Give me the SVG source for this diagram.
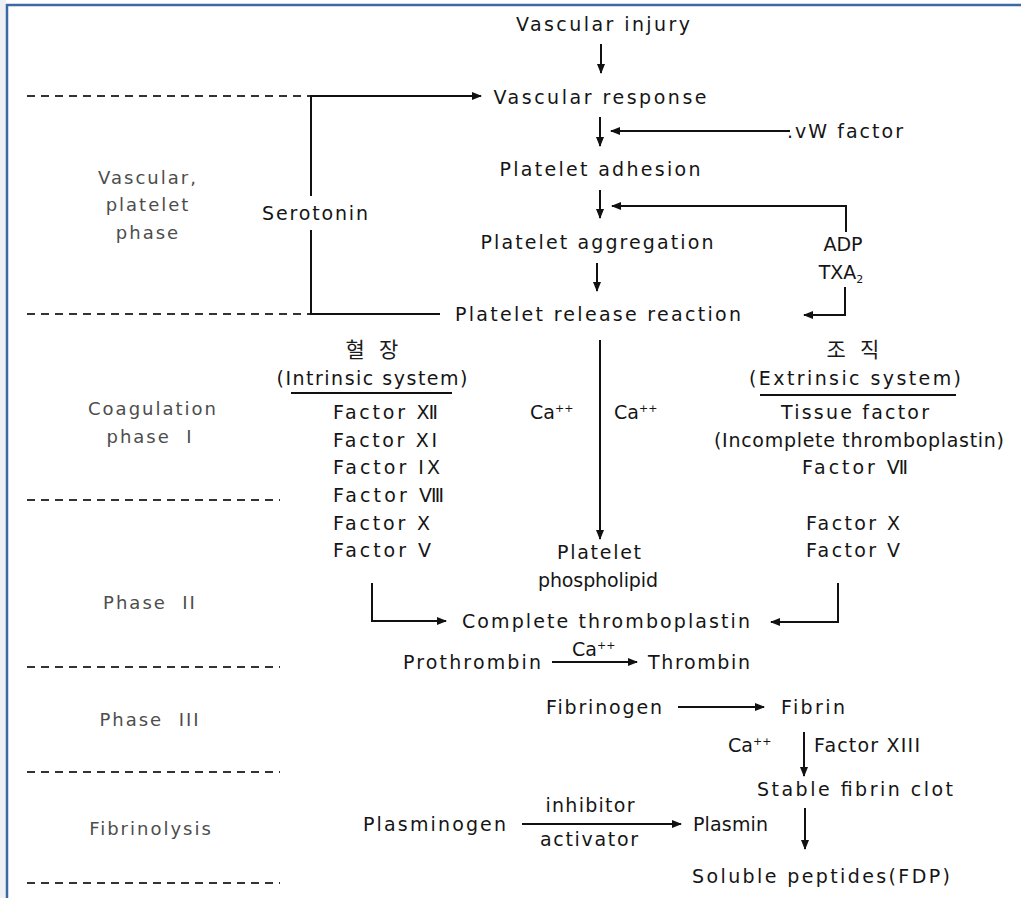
<svg xmlns="http://www.w3.org/2000/svg" width="1021" height="898" viewBox="0 0 1021 898">
<style>
.t{font-family:"DejaVu Sans","Noto Sans CJK KR",sans-serif;font-size:19px;fill:#151515;text-anchor:middle}
.s{text-anchor:start}
.k{font-family:"Noto Sans CJK KR",sans-serif;font-size:21px;fill:#1a1a1a;text-anchor:middle}
.p{font-family:"DejaVu Sans",sans-serif;font-size:18px;fill:#4d4d4d;text-anchor:middle;letter-spacing:2px}
.sup{font-size:11px}
.ln{stroke:#111;stroke-width:2;fill:none}
.ar{stroke:#111;stroke-width:2;fill:none;marker-end:url(#ah)}
.dash{stroke:#333;stroke-width:2.2;stroke-dasharray:8 6;fill:none}
</style>
<defs>
<marker id="ah" viewBox="0 0 10 10" refX="9" refY="5" markerWidth="5" markerHeight="5" orient="auto" markerUnits="strokeWidth">
<path d="M0,1 L10,5 L0,9 z" fill="#111"/>
</marker>
</defs>
<rect width="1021" height="898" fill="#fff"/>
<rect x="0" y="0" width="6" height="898" fill="#eef0f3"/>
<line x1="6" y1="5" x2="1021" y2="5" stroke="#3c68a8" stroke-width="2.5"/>
<line x1="7" y1="4" x2="7" y2="898" stroke="#3c68a8" stroke-width="2.5"/>

<g id="phases">
<text class="p" x="148" y="184">Vascular,</text>
<text class="p" x="148" y="211">platelet</text>
<text class="p" x="148" y="239">phase</text>
<text class="p" x="153" y="415">Coagulation</text>
<text class="p" x="150" y="443" xml:space="preserve">phase  I</text>
<text class="p" x="150" y="609" xml:space="preserve">Phase  II</text>
<text class="p" x="150" y="726" xml:space="preserve">Phase  III</text>
<text class="p" x="151" y="835">Fibrinolysis</text>
</g>

<g id="connectors">
<line class="dash" x1="27" y1="96" x2="311" y2="96"/>
<line class="dash" x1="27" y1="314" x2="311" y2="314"/>
<line class="dash" x1="27" y1="500" x2="280" y2="500"/>
<line class="dash" x1="27" y1="667" x2="280" y2="667"/>
<line class="dash" x1="27" y1="772" x2="280" y2="772"/>
<line class="dash" x1="27" y1="883" x2="280" y2="883"/>
<line class="ar" x1="601" y1="44" x2="601" y2="73"/>
<line class="ar" x1="600" y1="117" x2="600" y2="146"/>
<line class="ar" x1="600" y1="190" x2="600" y2="218"/>
<line class="ar" x1="597" y1="263" x2="597" y2="291"/>
<line class="ar" x1="790" y1="131" x2="611" y2="131"/>
<polyline class="ar" points="846,232 846,206 612,206"/>
<polyline class="ar" points="845,287 845,315 804,315"/>
<polyline class="ar" points="311,196 311,96 481,96"/>
<polyline class="ln" points="311,230 311,314 440,314"/>
<line class="ar" x1="600" y1="340" x2="600" y2="539"/>
<polyline class="ar" points="372,583 372,621 446,621"/>
<polyline class="ar" points="838,583 838,622 771,622"/>
<line class="ar" x1="552" y1="662" x2="637" y2="662"/>
<line class="ar" x1="678" y1="707" x2="764" y2="707"/>
<line class="ar" x1="804" y1="732" x2="804" y2="776"/>
<line class="ar" x1="522" y1="824" x2="681" y2="824"/>
<line class="ar" x1="805" y1="808" x2="805" y2="849"/>
<line class="ln" x1="291" y1="393" x2="452" y2="393"/>
<line class="ln" x1="760" y1="395" x2="956" y2="395"/>
</g>

<g id="n-injury"><text class="t" x="603" y="31" textLength="174" lengthAdjust="spacing">Vascular injury</text></g>
<g id="n-response"><text class="t" x="600" y="104" textLength="213" lengthAdjust="spacing">Vascular response</text></g>
<g id="n-vw"><text class="t s" x="787" y="138" textLength="116" lengthAdjust="spacing">.vW factor</text></g>
<g id="n-adhesion"><text class="t" x="600" y="176" textLength="201" lengthAdjust="spacing">Platelet adhesion</text></g>
<g id="n-serotonin"><text class="t" x="315" y="220" textLength="106" lengthAdjust="spacing">Serotonin</text></g>
<g id="n-aggregation"><text class="t" x="597" y="249" textLength="233" lengthAdjust="spacing">Platelet aggregation</text></g>
<g id="n-adp"><text class="t" x="843" y="251">ADP</text><text class="t" x="841" y="279">TXA<tspan class="sup" dy="4">2</tspan></text></g>
<g id="n-release"><text class="t" x="598" y="321" textLength="286" lengthAdjust="spacing">Platelet release reaction</text></g>

<g id="n-intrinsic">
<text class="k" x="372" y="357" xml:space="preserve">혈   장</text>
<text class="t" x="372" y="385" textLength="191" lengthAdjust="spacing">(Intrinsic system)</text>
<text class="t s" x="333" y="419" textLength="105" lengthAdjust="spacing">Factor Ⅻ</text>
<text class="t s" x="333" y="447" textLength="104" lengthAdjust="spacing">Factor XI</text>
<text class="t s" x="333" y="474" textLength="107" lengthAdjust="spacing">Factor IX</text>
<text class="t s" x="333" y="502" textLength="111" lengthAdjust="spacing">Factor Ⅷ</text>
<text class="t s" x="333" y="530" textLength="97" lengthAdjust="spacing">Factor X</text>
<text class="t s" x="333" y="557" textLength="98" lengthAdjust="spacing">Factor V</text>
</g>
<g id="n-ca">
<text class="t s" x="530" y="419">Ca<tspan class="sup" dy="-7">++</tspan></text>
<text class="t s" x="614" y="419">Ca<tspan class="sup" dy="-7">++</tspan></text>
</g>
<g id="n-extrinsic">
<text class="k" x="853" y="357" xml:space="preserve">조   직</text>
<text class="t" x="855" y="385" textLength="212" lengthAdjust="spacing">(Extrinsic system)</text>
<text class="t" x="855" y="419" textLength="148" lengthAdjust="spacing">Tissue factor</text>
<text class="t" x="859" y="447" textLength="290" lengthAdjust="spacing">(Incomplete thromboplastin)</text>
<text class="t" x="855" y="474" textLength="106" lengthAdjust="spacing">Factor Ⅶ</text>
<text class="t s" x="806" y="530" textLength="94" lengthAdjust="spacing">Factor X</text>
<text class="t s" x="806" y="557" textLength="94" lengthAdjust="spacing">Factor V</text>
</g>
<g id="n-phospholipid">
<text class="t" x="599" y="559" textLength="84" lengthAdjust="spacing">Platelet</text>
<text class="t" x="598" y="587" textLength="120" lengthAdjust="spacing">phospholipid</text>
</g>
<g id="n-complete"><text class="t" x="606" y="628" textLength="288" lengthAdjust="spacing">Complete thromboplastin</text></g>
<g id="n-prothrombin"><text class="t s" x="403" y="669" textLength="138" lengthAdjust="spacing">Prothrombin</text></g>
<g id="n-ca2"><text class="t s" x="572" y="656">Ca<tspan class="sup" dy="-7">++</tspan></text></g>
<g id="n-thrombin"><text class="t s" x="648" y="669" textLength="102" lengthAdjust="spacing">Thrombin</text></g>
<g id="n-fibrinogen"><text class="t s" x="546" y="714" textLength="116" lengthAdjust="spacing">Fibrinogen</text></g>
<g id="n-fibrin"><text class="t s" x="781" y="714" textLength="64" lengthAdjust="spacing">Fibrin</text></g>
<g id="n-ca3"><text class="t s" x="728" y="752">Ca<tspan class="sup" dy="-7">++</tspan></text></g>
<g id="n-f13"><text class="t s" x="814" y="752" textLength="106" lengthAdjust="spacing">Factor XIII</text></g>
<g id="n-stable"><text class="t s" x="757" y="796" textLength="196" lengthAdjust="spacing">Stable fibrin clot</text></g>
<g id="n-plasminogen"><text class="t s" x="363" y="831" textLength="143" lengthAdjust="spacing">Plasminogen</text></g>
<g id="n-inhibitor"><text class="t" x="590" y="812" textLength="89" lengthAdjust="spacing">inhibitor</text><text class="t" x="589" y="846" textLength="98" lengthAdjust="spacing">activator</text></g>
<g id="n-plasmin"><text class="t s" x="693" y="831" textLength="75" lengthAdjust="spacing">Plasmin</text></g>
<g id="n-soluble"><text class="t s" x="692" y="883" textLength="258" lengthAdjust="spacing">Soluble peptides(FDP)</text></g>
</svg>
